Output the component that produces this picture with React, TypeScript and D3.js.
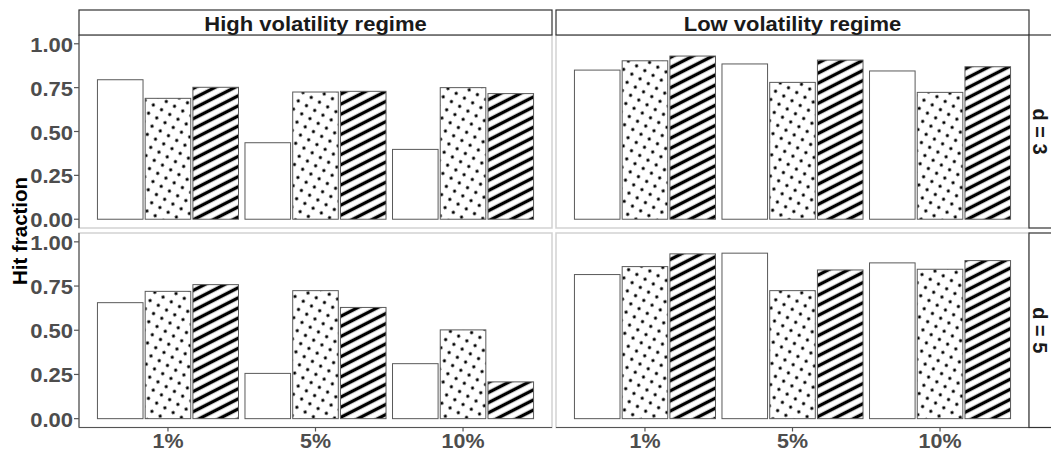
import * as d3 from 'd3';

// facet labels and categories
const regimes = ['High volatility regime', 'Low volatility regime'];
const dims = ['d = 3', 'd = 5'];
const levels = ['1%', '5%', '10%'];
const methods = ['plain', 'dots', 'stripes'];
const yTicks = [0, 0.25, 0.5, 0.75, 1];

// hit fractions: rows = level (1%, 5%, 10%), cols = method
const highD3 = [
  [0.795, 0.689, 0.752],
  [0.436, 0.725, 0.729],
  [0.398, 0.75, 0.716],
];
const lowD3 = [
  [0.85, 0.903, 0.93],
  [0.885, 0.78, 0.907],
  [0.845, 0.723, 0.869],
];
const highD5 = [
  [0.656, 0.72, 0.758],
  [0.256, 0.724, 0.629],
  [0.311, 0.502, 0.208],
];
const lowD5 = [
  [0.815, 0.86, 0.932],
  [0.936, 0.724, 0.841],
  [0.881, 0.845, 0.894],
];

const panelData = [
  [highD3, lowD3],
  [highD5, lowD5],
];

const W = 1051;
const H = 450;
const FONT = '"Liberation Sans", Arial, sans-serif';
const SX = 1.1; // the source is slightly stretched horizontally

const colX = [
  [79, 552],
  [556, 1029],
];
const rowY = [
  [35, 228],
  [233, 427.5],
];
const stripTop = 10;
const stripRightW = 30;

const fills: Record<string, string> = {
  plain: '#ffffff',
  dots: 'url(#pat-dots)',
  stripes: 'url(#pat-stripes)',
};

function HText({ x, y, anchor, children, fill, size }: any) {
  return (
    <g transform={`translate(${x},${y}) scale(${SX},1)`}>
      <text
        textAnchor={anchor}
        fill={fill}
        fontSize={size}
        fontWeight="bold"
        fontFamily={FONT}
      >
        {children}
      </text>
    </g>
  );
}

function Panel({ row, col }: { row: number; col: number }) {
  const [x0, x1] = colX[col];
  const [y0, y1] = rowY[row];
  const data = panelData[row][col];

  const x = d3
    .scaleBand<string>()
    .domain(levels)
    .range([x0, x1])
    .paddingInner(0.044)
    .paddingOuter(0.125);
  const xm = d3
    .scaleBand<string>()
    .domain(methods)
    .range([0, x.bandwidth()])
    .paddingInner(0.045);
  const y = d3.scaleLinear().domain([-0.05, 1.05]).range([y1, y0]);

  return (
    <g>
      <rect x={x0} y={y0} width={x1 - x0} height={y1 - y0} fill="#fff" stroke="#d2d2d2" strokeWidth={1.5} />
      {levels.map((lv, i) =>
        methods.map((m, j) => {
          const v = data[i][j];
          return (
            <rect
              key={lv + m}
              x={(x(lv) ?? 0) + (xm(m) ?? 0)}
              y={y(v)}
              width={xm.bandwidth()}
              height={y(0) - y(v)}
              fill={fills[m]}
              stroke="#5a5a5a"
              strokeWidth={1}
            />
          );
        })
      )}
      {col === 0 && (
        <g>
          <line x1={x0} x2={x0} y1={y0} y2={y1} stroke="#555" strokeWidth={1.2} />
          {yTicks.map((t) => (
            <g key={t}>
              <line x1={x0 - 5} x2={x0} y1={y(t)} y2={y(t)} stroke="#555" strokeWidth={1.2} />
              <HText x={x0 - 6} y={y(t) + 8} anchor="end" fill="#4d4d4d" size={20}>
                {d3.format('.2f')(t)}
              </HText>
            </g>
          ))}
        </g>
      )}
      {row === 1 && (
        <g>
          <line x1={x0} x2={x1} y1={y1} y2={y1} stroke="#555" strokeWidth={1.2} />
          {levels.map((lv) => {
            const cx = (x(lv) ?? 0) + x.bandwidth() / 2;
            return (
              <g key={lv}>
                <line x1={cx} x2={cx} y1={y1} y2={y1 + 4} stroke="#555" strokeWidth={1.2} />
                <HText x={cx} y={447.5} anchor="middle" fill="#4d4d4d" size={19.5}>
                  {lv}
                </HText>
              </g>
            );
          })}
        </g>
      )}
      {row === 0 && (
        <g>
          <rect x={x0} y={stripTop} width={x1 - x0} height={y0 - stripTop} fill="#fff" stroke="#333" strokeWidth={1.2} />
          <HText x={(x0 + x1) / 2} y={30.5} anchor="middle" fill="#1a1a1a" size={20}>
            {regimes[col]}
          </HText>
        </g>
      )}
      {col === 1 && (
        <g>
          <rect x={x1} y={y0} width={stripRightW} height={y1 - y0} fill="#fff" stroke="#333" strokeWidth={1.2} />
          <text
            transform={`translate(${x1 + 3.5},${(y0 + y1) / 2}) rotate(90)`}
            textAnchor="middle"
            fill="#1a1a1a"
            fontSize={20}
            fontWeight="bold"
            fontFamily={FONT}
          >
            {dims[row]}
          </text>
        </g>
      )}
    </g>
  );
}

export default function App() {
  return (
    <div style={{ position: 'absolute', left: 0, top: 0 }}>
      <svg width={W} height={H} viewBox={`0 0 ${W} ${H}`} style={{ display: 'block', background: '#fff' }}>
        <defs>
          <pattern id="pat-dots" patternUnits="userSpaceOnUse" width={9.5} height={9.5} patternTransform="rotate(30)">
            <rect width={9.5} height={9.5} fill="#fff" />
            <circle cx={4.75} cy={4.75} r={1.6} fill="#000" />
          </pattern>
          <pattern id="pat-stripes" patternUnits="userSpaceOnUse" width={9} height={9} patternTransform="rotate(-27)">
            <rect width={9} height={9} fill="#fff" />
            <rect y={2.8} width={9} height={3.4} fill="#000" />
          </pattern>
        </defs>
        <rect width={W} height={H} fill="#fff" />
        {[0, 1].map((r) => [0, 1].map((c) => <Panel key={`${r}-${c}`} row={r} col={c} />))}
        <text
          transform={`translate(26.5,231) rotate(-90)`}
          textAnchor="middle"
          fill="#000"
          fontSize={20.5}
          fontWeight="bold"
          fontFamily={FONT}
        >
          Hit fraction
        </text>
      </svg>
    </div>
  );
}
